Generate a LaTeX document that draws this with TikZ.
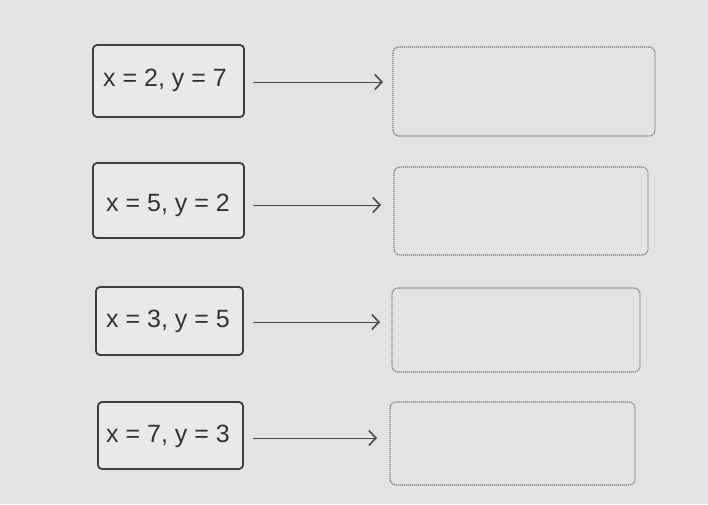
\documentclass[tikz,border=0pt]{standalone}
\usepackage{fontspec}
\setmainfont{Liberation Sans}
\usetikzlibrary{arrows.meta}
\definecolor{bg}{HTML}{E3E3E3}
\definecolor{boxline}{HTML}{3E3E3E}
\definecolor{dotline}{HTML}{7A7A7A}
\definecolor{arrowc}{HTML}{4A4A4A}
\tikzset{
  pairbox/.style={draw=boxline, line width=1.8pt, rounded corners=4pt, fill=bg!80!white},
  pairtext/.style={font=\fontsize{25}{29}\selectfont, text=black!80},
  answerbox/.style={draw=dotline, line width=1.1pt, dash pattern=on 1.2pt off 0.8pt, rounded corners=6pt},
  link/.style={draw=arrowc, line width=1pt, -{Straight Barb[length=7pt,width=15pt,line width=1.6pt]}}
}
\begin{document}
\begin{tikzpicture}[x=1pt,y=-1pt]
\useasboundingbox[fill=bg] (0,0) rectangle (708,504);
% row 1
\draw[pairbox] (93,45) rectangle (244,117);
\node[pairtext] (t1) at (165,80) {x = 2, y = 7};
\draw[answerbox] (393,47) rectangle (655,136);
\coordinate (s1) at (253,82); \coordinate (e1) at (383,82);
\draw[link] (s1) -- (e1);
% row 2
\draw[pairbox] (93,163) rectangle (244,238);
\node[pairtext] (t2) at (168,205) {x = 5, y = 2};
\draw[answerbox] (394,167) rectangle (648,255);
\coordinate (s2) at (253,205); \coordinate (e2) at (381,205);
\draw[link] (s2) -- (e2);
% row 3
\draw[pairbox] (96,287) rectangle (243,355);
\node[pairtext] (t3) at (168,321) {x = 3, y = 5};
\draw[answerbox] (392,288) rectangle (640,372);
\coordinate (s3) at (253,322); \coordinate (e3) at (380,322);
\draw[link] (s3) -- (e3);
% row 4
\draw[pairbox] (98,402) rectangle (243,469);
\node[pairtext] (t4) at (168,436) {x = 7, y = 3};
\draw[answerbox] (390,402) rectangle (635,485);
\coordinate (s4) at (253,438); \coordinate (e4) at (377,438);
\draw[link] (s4) -- (e4);
\end{tikzpicture}
\end{document}
